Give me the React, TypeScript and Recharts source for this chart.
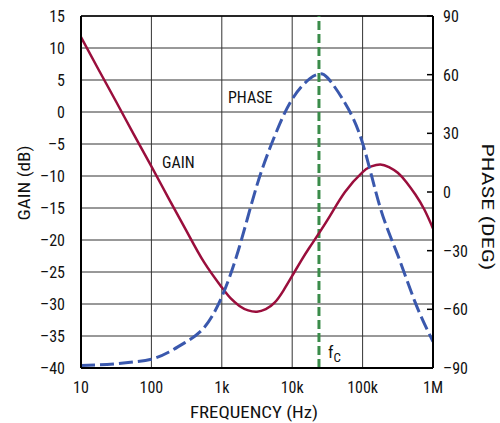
import { ComposedChart, Line, XAxis, YAxis, CartesianGrid, ReferenceLine } from 'recharts';

// frequency (Hz) / gain (dB)
const gainFreq = [10, 17.8, 31.6, 56.2, 100, 178, 316, 562, 1000, 1330, 1780, 2370, 3160, 4220, 5620, 7500, 10000, 13300, 17800, 31600, 56200, 100000, 133000, 178000, 237000, 316000, 422000, 562000, 750000, 1000000];
const gainDb = [11.7, 6.6, 1.6, -3.5, -8.5, -13.6, -18.6, -23.5, -27.4, -29.1, -30.3, -31.0, -31.2, -30.8, -29.8, -27.9, -25.6, -23.3, -21.1, -16.9, -12.5, -9.4, -8.5, -8.2, -8.6, -9.5, -11.0, -12.9, -15.2, -18.2];

// frequency (Hz) / phase (deg)
const phaseFreq = [10, 17.8, 31.6, 56.2, 100, 178, 316, 562, 1000, 1780, 3160, 5620, 10000, 17800, 23800, 31600, 56200, 100000, 178000, 316000, 562000, 1000000];
const phaseDeg = [-88.7, -88.4, -87.8, -86.9, -85.5, -81.8, -76.5, -69.3, -53.6, -28, 3.5, 28.5, 47.5, 58, 60.3, 58.5, 45.5, 25, -8, -32.3, -56.7, -76.5];

const freqTicks = [10, 100, 1000, 10000, 100000, 1000000];
const freqLabels = ['10', '100', '1k', '10k', '100k', '1M'];
const gainTicks = [-40, -35, -30, -25, -20, -15, -10, -5, 0, 5, 10, 15];
const phaseTicks = [-90, -60, -30, 0, 30, 60, 90];
const fc = 24000;

const font = "'Liberation Sans Narrow', 'Roboto Condensed', 'Liberation Sans', Arial, sans-serif";

const gainData = gainFreq.map((f, i) => ({ f, gain: gainDb[i] }));
const phaseData = phaseFreq.map((f, i) => ({ f, phase: phaseDeg[i] }));

const minus = (v: number) => (v < 0 ? `\u2013${Math.abs(v)}` : `${v}`);

// right axis: short tick pointing into the plot + label
function PhaseTick(props: any) {
  const { x, y, payload } = props;
  return (
    <g>
      <line x1={x - 10} x2={x - 16} y1={y} y2={y} stroke="#000" strokeWidth={1.5} />
      <text x={x} y={y} dy={6} fontSize={16} fontFamily={font} fill="#111" textAnchor="start">
        {minus(payload.value)}
      </text>
    </g>
  );
}

export default function App() {
  const tickStyle = { fill: '#111', fontSize: 16, fontFamily: font };
  return (
    <div style={{ position: 'absolute', left: 0, top: 0, background: '#fff' }}>
      <ComposedChart width={500} height={423} margin={{ top: 16, right: 0, bottom: 0, left: 0 }}>
        <CartesianGrid yAxisId="gain" stroke="#333" strokeWidth={1} />
        <XAxis
          dataKey="f"
          type="number"
          scale="log"
          domain={[10, 1000000]}
          ticks={freqTicks}
          tickFormatter={(v) => freqLabels[freqTicks.indexOf(v)] ?? ''}
          allowDataOverflow
          height={55}
          stroke="#000"
          strokeWidth={2}
          tickLine={false}
          tickMargin={8}
          tick={tickStyle}
        />
        <YAxis
          yAxisId="gain"
          domain={[-40, 15]}
          ticks={gainTicks}
          interval={0}
          width={81}
          stroke="#000"
          strokeWidth={2}
          tickLine={false}
          tickMargin={10}
          tick={tickStyle}
          tickFormatter={minus}
        />
        <YAxis
          yAxisId="phase"
          orientation="right"
          domain={[-90, 90]}
          ticks={phaseTicks}
          interval={0}
          width={67}
          stroke="#000"
          strokeWidth={2}
          tickLine={false}
          tickSize={6}
          tickMargin={4}
          tick={<PhaseTick />}
        />
        <ReferenceLine yAxisId="gain" y={15} stroke="#000" strokeWidth={1.5} />
        <ReferenceLine yAxisId="gain" x={fc} stroke="#3a8c4a" strokeWidth={3} strokeDasharray="9 4" />
        <Line
          yAxisId="gain"
          data={gainData}
          dataKey="gain"
          type="natural"
          stroke="#9a0e3c"
          strokeWidth={2.5}
          dot={false}
          isAnimationActive={false}
        />
        <Line
          yAxisId="phase"
          data={phaseData}
          dataKey="phase"
          type="natural"
          stroke="#3a58ad"
          strokeWidth={3}
          strokeDasharray="14 5"
          dot={false}
          isAnimationActive={false}
        />
        <text x={162} y={168} fontSize={16} fontFamily={font} fill="#111">GAIN</text>
        <text x={228} y={103} fontSize={16} fontFamily={font} fill="#111">PHASE</text>
        <text x={328} y={358} fontSize={17} fontFamily={font} fill="#111">
          f<tspan dy={4} fontSize={13}>C</tspan>
        </text>
        <text x={254} y={418} fontSize={17} fontFamily={font} fill="#111" textAnchor="middle" textLength={128} lengthAdjust="spacingAndGlyphs">
          FREQUENCY (Hz)
        </text>
        <text x={0} y={0} fontSize={16} fontFamily={font} fill="#111" textAnchor="middle" textLength={75} lengthAdjust="spacingAndGlyphs" transform="translate(30,183) rotate(-90)">
          GAIN (dB)
        </text>
        <text x={0} y={0} fontSize={17} fontFamily={font} fill="#111" textAnchor="middle" textLength={127} lengthAdjust="spacingAndGlyphs" transform="translate(482,207) rotate(90)">
          PHASE (DEG)
        </text>
      </ComposedChart>
    </div>
  );
}
